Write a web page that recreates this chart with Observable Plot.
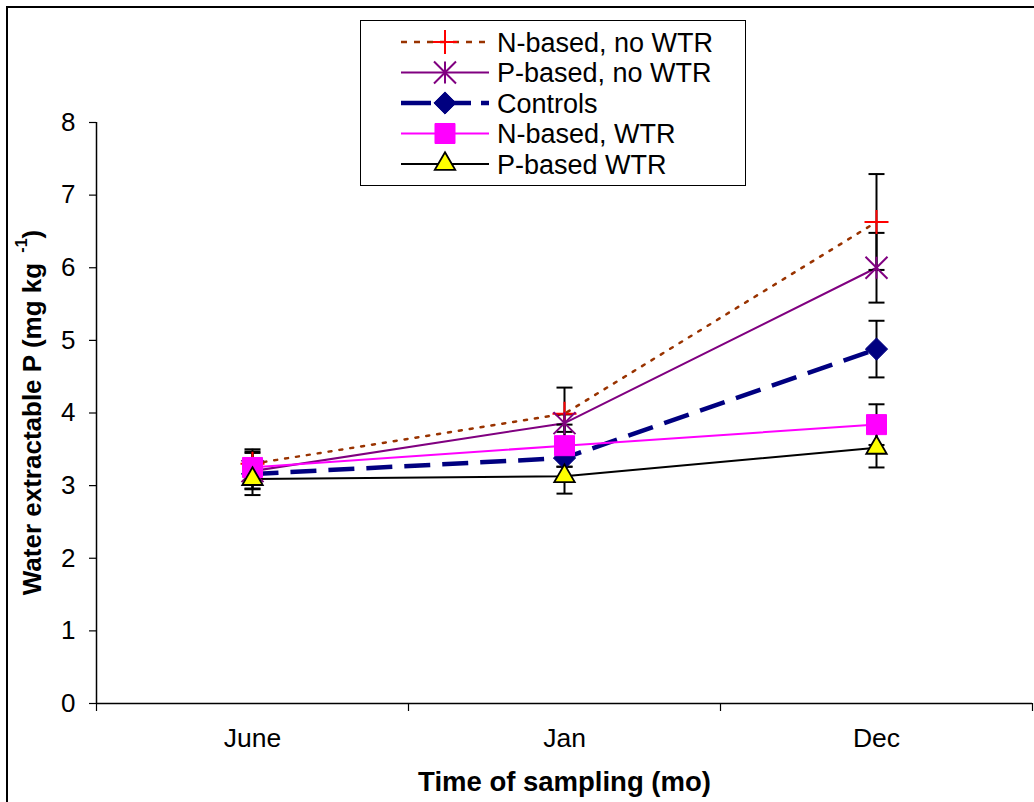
<!DOCTYPE html>
<html><head><meta charset="utf-8">
<script src="https://cdn.jsdelivr.net/npm/d3@7"></script>
<script src="https://cdn.jsdelivr.net/npm/@observablehq/plot@0.6"></script>
<style>
body{margin:0;background:#fff;font-family:"Liberation Sans",Arial,sans-serif;}
#wrap{position:relative;width:1034px;height:802px;overflow:hidden;background:#fff;}
#chart{position:absolute;left:0;top:0;}
#frame{position:absolute;left:6px;top:6px;right:-20px;bottom:-20px;border-left:2px solid #000;border-top:2px solid #000;pointer-events:none;}
#legend{position:absolute;left:360px;top:20px;width:384px;height:164px;border:1px solid #000;background:#fff;}
</style></head><body>
<div id="wrap"><div id="chart"></div><div id="frame"></div><div id="legend"></div></div>
<script>
// ---- data ----
const months = ["June", "Jan", "Dec"];
const seriesNames = ["N-based, no WTR", "P-based, no WTR", "Controls", "N-based, WTR", "P-based WTR"];
const nBasedNoWTR = [3.30, 3.99, 6.63];
const pBasedNoWTR = [3.20, 3.86, 6.00];
const controls    = [3.16, 3.38, 4.88];
const nBasedWTR   = [3.25, 3.55, 3.84];
const pBasedWTR   = [3.09, 3.13, 3.52];
const errNBasedNoWTR = [0.20, 0.36, 0.66];
const errPBasedNoWTR = [0.25, 0.12, 0.48];
const errControls    = [0.20, 0.12, 0.39];
const errNBasedWTR   = [0.22, 0.29, 0.28];
const errPBasedWTR   = [0.22, 0.24, 0.27];
const yTicks = [0, 1, 2, 3, 4, 5, 6, 7, 8];
const xTitle = "Time of sampling (mo)";
const yTitle = "Water extractable P (mg kg ";
const yTitleSup = "-1";

const seriesValues = [nBasedNoWTR, pBasedNoWTR, controls, nBasedWTR, pBasedWTR];
const seriesErrors = [errNBasedNoWTR, errPBasedNoWTR, errControls, errNBasedWTR, errPBasedWTR];

// ---- custom symbols (half-extent = r) ----
const symPlus = {draw(c, size){const r=Math.sqrt(size/Math.PI); c.moveTo(-r,0); c.lineTo(r,0); c.moveTo(0,-r); c.lineTo(0,r);}};
const symStar = {draw(c, size){const r=Math.sqrt(size/Math.PI); c.moveTo(-r,-r); c.lineTo(r,r); c.moveTo(-r,r); c.lineTo(r,-r); c.moveTo(0,-r); c.lineTo(0,r);}};
const symCap  = {draw(c, size){const r=Math.sqrt(size/Math.PI); c.moveTo(-r,0); c.lineTo(r,0);}};

const styles = [
  {stroke:"#993300", width:2.5, dash:"3,8", lcap:"round", symbol:symPlus, r:12, fill:"none", mstroke:"#ff0000", mwidth:2, ldash:"6,7"},
  {stroke:"#800080", width:2, dash:null, symbol:symStar, r:11, fill:"none", mstroke:"#800080", mwidth:2},
  {stroke:"#000080", width:4.5, dash:"26,12", symbol:d3.symbolDiamond2, r:10, fill:"#000080", mstroke:"#000080", mwidth:1, ldash:"30,10"},
  {stroke:"#ff00ff", width:2, dash:null, symbol:d3.symbolSquare, r:11.3, fill:"#ff00ff", mstroke:"#ff00ff", mwidth:1},
  {stroke:"#000000", width:2, dash:null, symbol:d3.symbolTriangle, r:7.6, fill:"#ffff00", mstroke:"#000000", mwidth:1.8}
];

const rows = seriesNames.map((s, k) => months.map((m, i) => ({
  series: s, month: m, xi: i + 0.5,
  y: seriesValues[k][i],
  lo: seriesValues[k][i] - seriesErrors[k][i],
  hi: seriesValues[k][i] + seriesErrors[k][i]
})));

const lineMarks = rows.map((d, k) => Plot.line(d, {x:"xi", y:"y", stroke:styles[k].stroke, strokeWidth:styles[k].width,
  strokeDasharray:styles[k].dash, strokeLinecap:styles[k].lcap || "butt"}));
const errMarks = rows.flatMap(d => [
  Plot.ruleX(d, {x:"xi", y1:"lo", y2:"hi", stroke:"#000", strokeWidth:2}),
  Plot.dot(d, {x:"xi", y:"lo", symbol:symCap, r:8, fill:"none", stroke:"#000", strokeWidth:2}),
  Plot.dot(d, {x:"xi", y:"hi", symbol:symCap, r:8, fill:"none", stroke:"#000", strokeWidth:2})
]);
const dotMarks = rows.map((d, k) => Plot.dot(d, {x:"xi", y:"y", symbol:styles[k].symbol, r:styles[k].r,
  fill:styles[k].fill, stroke:styles[k].mstroke, strokeWidth:styles[k].mwidth}));

const chart = Plot.plot({
  width: 1034, height: 802,
  marginLeft: 96, marginRight: 2, marginTop: 122, marginBottom: 99,
  x: {domain: [0, months.length]},
  y: {domain: [0, 8]},
  style: {fontFamily: "'Liberation Sans', Arial, sans-serif", fontSize: "26px", color: "#000", background: "transparent"},
  marks: [
    Plot.axisY({ticks: yTicks, tickSize: 7, tickPadding: 14, label: null, tickFormat: d => String(d), strokeWidth: 1.2}),
    Plot.axisX({ticks: d3.range(months.length + 1), tickSize: 8, tickFormat: () => "", label: null, strokeWidth: 1.2}),
    Plot.axisX({ticks: months.map((m, i) => i + 0.5), tickSize: 0, tickPadding: 25, tickFormat: v => months[Math.floor(v)], label: null, fontSize: 26.5}),
    Plot.ruleX([0], {stroke: "#000", strokeWidth: 1.5}),
    Plot.ruleY([0], {stroke: "#000", strokeWidth: 1.5}),
    ...lineMarks,
    ...errMarks,
    ...dotMarks,
    Plot.text([xTitle], {text: d => d, frameAnchor: "bottom", dy: 79, lineAnchor: "middle", fontWeight: "bold", fontSize: 27.5})
  ]
});
document.getElementById("chart").appendChild(chart);

// y-axis title with superscript
const svg = d3.select(chart);
const yt = svg.append("text")
  .attr("transform", `translate(34,${(122 + 703) / 2}) rotate(-90)`)
  .attr("text-anchor", "middle")
  .attr("dominant-baseline", "middle")
  .attr("font-family", "'Liberation Sans', Arial, sans-serif")
  .attr("font-weight", "bold").attr("font-size", 26).attr("fill", "#000");
yt.append("tspan").text(yTitle);
yt.append("tspan").attr("font-size", 16).attr("dy", -11).attr("dx", 3).text(yTitleSup);
yt.append("tspan").attr("dy", 11).text(")");

// legend
const lg = d3.select("#legend").append("svg").attr("width", 384).attr("height", 164);
seriesNames.forEach((s, k) => {
  const cy = 21 + k * 30.5, st = styles[k];
  lg.append("line").attr("x1", 40).attr("x2", 128).attr("y1", cy).attr("y2", cy)
    .attr("stroke", st.stroke).attr("stroke-width", st.width).attr("stroke-dasharray", st.ldash || st.dash);
  lg.append("path").attr("transform", `translate(84,${cy})`)
    .attr("d", d3.symbol(st.symbol, Math.PI * st.r * st.r)())
    .attr("fill", st.fill).attr("stroke", st.mstroke).attr("stroke-width", st.mwidth);
  lg.append("text").attr("x", 136).attr("y", cy).attr("dy", "0.36em")
    .attr("font-family", "'Liberation Sans', Arial, sans-serif").attr("font-size", 27).attr("fill", "#000").text(s);
});
</script>
</body></html>
